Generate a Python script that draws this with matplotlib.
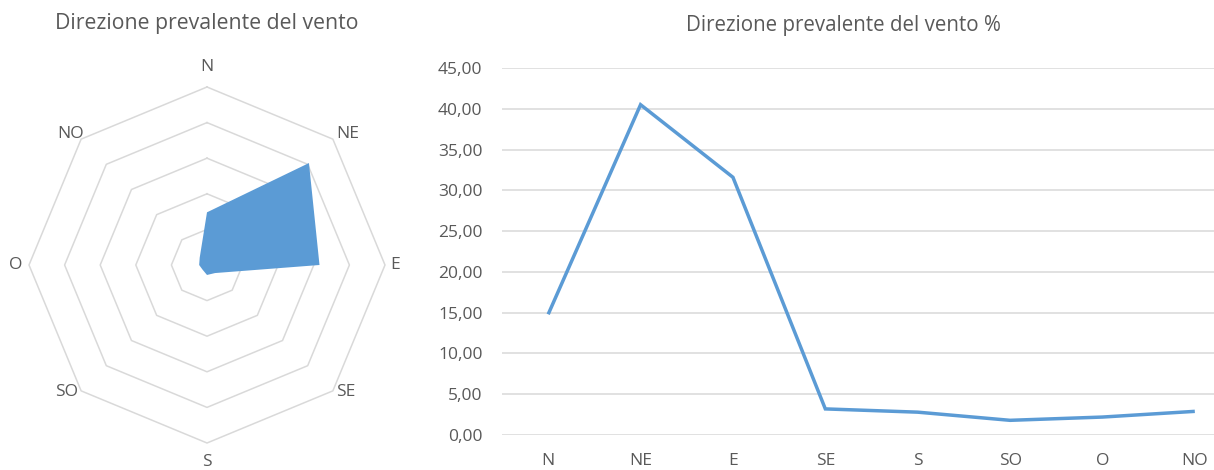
import numpy as np
import matplotlib
matplotlib.use("Agg")
import matplotlib.pyplot as plt

# Wind direction frequencies (%)
directions = ["N", "NE", "E", "SE", "S", "SO", "O", "NO"]
frequency = [14.8, 40.5, 31.6, 3.2, 2.8, 1.8, 2.2, 2.9]
y_ticks = [0, 5, 10, 15, 20, 25, 30, 35, 40, 45]
y_tick_labels = ["0,00", "5,00", "10,00", "15,00", "20,00", "25,00",
                 "30,00", "35,00", "40,00", "45,00"]
radar_rings = [10, 20, 30, 40, 50]

BLUE = "#5b9bd5"
GRID = "#d9d9d9"
TEXT = "#595959"
plt.rcParams["font.family"] = ["Open Sans", "DejaVu Sans"]

W, H = 1214, 470
fig = plt.figure(figsize=(W / 100, H / 100), dpi=100)

# ---------- radar chart ----------
half_px = 205
scale = 178 / 50.0  # pixels per data unit
lim = half_px / scale
ax_r = fig.add_axes([(207 - half_px) / W, (H - 265 - half_px) / H,
                     2 * half_px / W, 2 * half_px / H])
ax_r.set_xlim(-lim, lim)
ax_r.set_ylim(-lim, lim)
ax_r.set_aspect("equal")
ax_r.axis("off")

angles = np.deg2rad(np.arange(len(directions)) * 360 / len(directions))
sx, sy = np.sin(angles), np.cos(angles)

for r in radar_rings:
    ax_r.plot(np.append(r * sx, r * sx[0]), np.append(r * sy, r * sy[0]),
              color=GRID, lw=1.1, zorder=1)

vals = np.array(frequency)
ax_r.fill(vals * sx, vals * sy, color=BLUE, lw=0, zorder=2)

# category labels placed just outside the outer ring vertices
label_offsets = [(0, 20), (15, 5), (10, 0), (13, -1),
                 (0, -19), (-15, -1), (-13, 0), (-11, 5)]
r_out = radar_rings[-1]
for lab, x, y, off in zip(directions, sx, sy, label_offsets):
    ax_r.annotate(lab, (r_out * x, r_out * y), xytext=off,
                  textcoords="offset pixels", ha="center", va="center",
                  fontsize=12.5, color=TEXT, annotation_clip=False)

fig.text(207 / W, 1 - 24 / H, "Direzione prevalente del vento",
         ha="center", va="center", fontsize=15.3, color=TEXT)

# ---------- line chart ----------
x0, x1 = 502, 1241
y_top, y_bot = 68, 435
ax = fig.add_axes([x0 / W, (H - y_bot) / H, (x1 - x0) / W, (y_bot - y_top) / H])
xs = np.arange(len(directions))
ax.plot(xs, frequency, color=BLUE, lw=2.5, solid_joinstyle="miter",
        solid_capstyle="butt", zorder=3)
ax.set_xlim(-0.5, len(directions) - 0.5)
ax.set_ylim(0, 45)
ax.set_yticks(y_ticks)
ax.set_yticklabels(y_tick_labels)
ax.set_xticks(xs)
ax.set_xticklabels(directions)
ax.grid(axis="y", color=GRID, lw=1.1)
ax.set_axisbelow(True)
for s in ax.spines.values():
    s.set_visible(False)
ax.tick_params(axis="both", length=0, labelsize=12.5, labelcolor=TEXT)
ax.tick_params(axis="y", pad=14)
ax.tick_params(axis="x", pad=13)

fig.text(843 / W, 1 - 25 / H, "Direzione prevalente del vento %",
         ha="center", va="center", fontsize=14.8, color=TEXT)

fig.savefig("out.png", dpi=100, facecolor="white")
